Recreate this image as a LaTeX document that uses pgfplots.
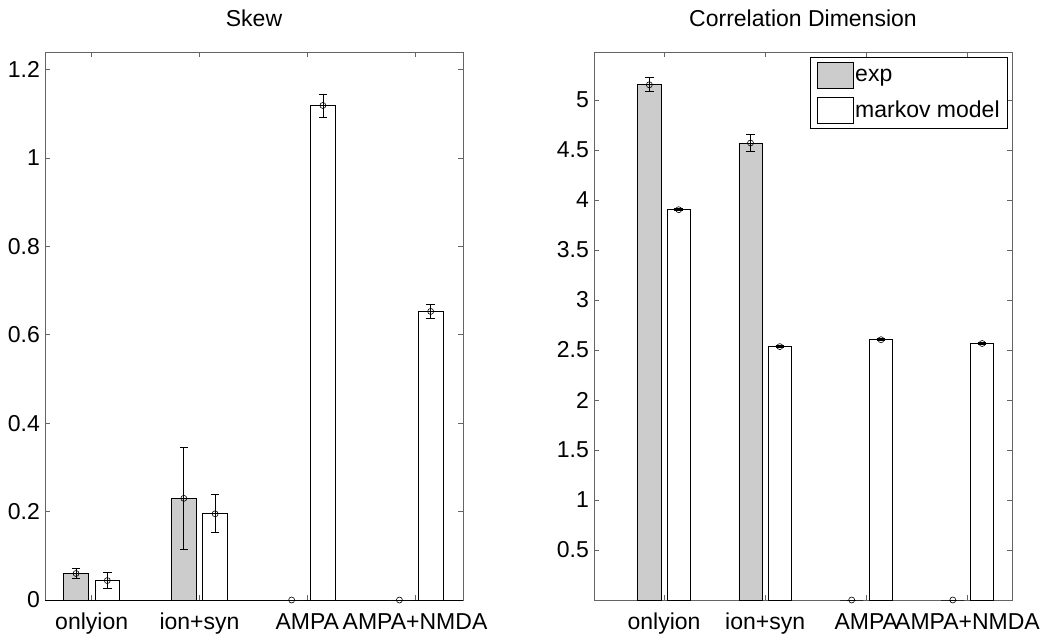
\documentclass[border=0pt]{standalone}
\usepackage{pgfplots}
\pgfplotsset{compat=1.18}
\usepackage{pgfplotstable}
\usepackage{fontspec}
\setmainfont{Liberation Sans}
\definecolor{barg}{RGB}{204,204,204}
\definecolor{axg}{RGB}{100,100,100}
\newcommand\fs{\fontsize{23}{27}\selectfont}

\pgfplotstableread{
x skexp skexperr skmk skmkerr cdexp cdexperr cdmk cdmkerr
1 0.060 0.011 0.044 0.018 5.152 0.070 3.903 0.010
2 0.230 0.115 0.195 0.043 4.570 0.085 2.534 0.010
3 0     0     1.119 0.026 0     0     2.603 0.010
4 0     0     0.653 0.015 0     0     2.565 0.010
}\datatab

\pgfplotsset{
  common/.style={
    width=418pt, height=548pt, scale only axis,
    axis line style={axg, line width=0.7pt},
    tick style={axg, line width=0.7pt},
    tick align=inside, major tick length=5pt,
    xtick={1,2,3,4},
    xticklabels={onlyion, ion+syn, AMPA, AMPA+NMDA},
    clip=false,
    /pgf/number format/assume math mode=true,
    tick label style={font=\fs},
    title style={font=\fs, at={(0.5,1)}, anchor=base, yshift=19pt},
    xticklabel style={anchor=base, yshift=-29pt},
    yticklabel style={anchor=east, inner sep=0pt, xshift=-5pt},
    legend style={font=\fs},
  },
  mybar/.style={ybar, bar width=0.23, draw=black, line width=0.7pt,
    legend image code/.code={\draw[##1] (0pt,-13pt) rectangle (36pt,13pt);}},
  mymark/.style={only marks, mark=o, mark size=3pt,
    mark options={black, line width=0.6pt}, forget plot,
    error bars/y dir=both, error bars/y explicit,
    error bars/error bar style={black, line width=0.7pt},
    error bars/error mark options={rotate=90, black, mark size=4.3pt, line width=0.7pt}},
}

\begin{document}
\begin{tikzpicture}
\useasboundingbox (0,0) rectangle (1043pt,633pt);

\begin{axis}[common, at={(45pt,33pt)}, anchor=south west,
  xmin=0.567, xmax=4.445, ymin=0, ymax=1.24,
  ytick={0,0.2,0.4,0.6,0.8,1,1.2},
  extra y ticks={0}, extra y tick labels={},
  extra y tick style={grid=major, major grid style={black, line width=1pt}, tick style={draw=none}},
  title={Skew}]
\addplot[mybar, fill=barg, bar shift=-0.145] table[x=x, y=skexp] {\datatab};
\addplot[mybar, fill=white, bar shift=0.145] table[x=x, y=skmk] {\datatab};
\addplot[mymark] table[x expr=\thisrow{x}-0.145, y=skexp, y error=skexperr] {\datatab};
\addplot[mymark] table[x expr=\thisrow{x}+0.145, y=skmk, y error=skmkerr] {\datatab};
\end{axis}

\begin{axis}[common, at={(594pt,33pt)}, anchor=south west,
  xmin=0.308, xmax=4.44, ymin=0, ymax=5.48,
  ytick={0.5,1,1.5,2,2.5,3,3.5,4,4.5,5},
  title={Correlation Dimension},
  legend style={at={(1,1)}, anchor=north east, xshift=-4pt, yshift=-5pt,
    draw=black, line width=0.7pt, fill=white, inner xsep=6pt, inner ysep=5pt,
    row sep=8pt, cells={anchor=west}},
  legend cell align=left]
\addplot[mybar, fill=barg, bar shift=-0.145] table[x=x, y=cdexp] {\datatab};
\addlegendentry{exp}
\addplot[mybar, fill=white, bar shift=0.145] table[x=x, y=cdmk] {\datatab};
\addlegendentry{markov model}
\addplot[mymark] table[x expr=\thisrow{x}-0.145, y=cdexp, y error=cdexperr] {\datatab};
\addplot[mymark] table[x expr=\thisrow{x}+0.145, y=cdmk, y error=cdmkerr] {\datatab};
\end{axis}
\end{tikzpicture}
\end{document}
